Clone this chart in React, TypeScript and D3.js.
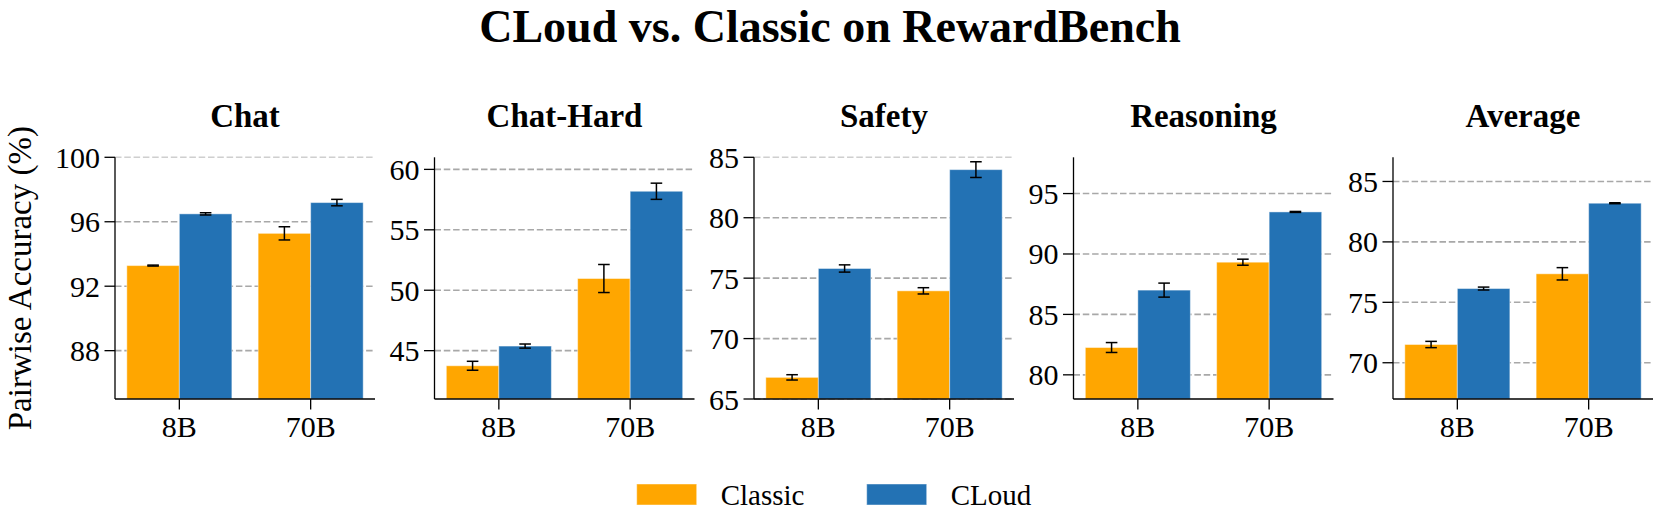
import React from "react";
import * as d3 from "d3";

const title = "CLoud vs. Classic on RewardBench";
const categories = ["Chat", "Chat-Hard", "Safety", "Reasoning", "Average"];
const models = ["8B", "70B"];
const seriesNames = ["Classic", "CLoud"];
const seriesColors = ["#FFA600", "#2372B4"];

const classicValues = [[93.28, 95.28], [43.75, 50.97], [66.79, 73.95], [82.26, 89.32], [71.51, 77.36]];
const cloudValues = [[96.49, 97.19], [45.38, 58.19], [75.8, 83.98], [87.01, 93.48], [76.14, 83.2]];
const classicErr = [[0.03, 0.41], [0.37, 1.16], [0.22, 0.26], [0.41, 0.25], [0.26, 0.51]];
const cloudErr = [[0.07, 0.2], [0.17, 0.67], [0.3, 0.65], [0.58, 0.04], [0.12, 0.04]];
const yDomains = [[85, 100], [41, 61], [65, 85], [78, 98], [67, 87]];
const yTicks = [[88, 92, 96, 100], [45, 50, 55, 60], [65, 70, 75, 80, 85], [80, 85, 90, 95], [70, 75, 80, 85]];
const yLabel = "Pairwise Accuracy (%)";

const W = 1660, H = 532;
const FONT = "'Liberation Serif', 'Times New Roman', serif";
const panelLeft0 = 115, panelStep = 319.5, panelW = 260;
const top = 157.3, bottom = 399;
const barW = 0.4;

export default function App() {
  const x = d3.scaleLinear().domain([-0.49, 1.49]).range([0, panelW]);
  const xIdx = d3.scaleOrdinal<string, number>().domain(models).range([0, 1]);
  const series = [
    { vals: classicValues, errs: classicErr, offset: -barW },
    { vals: cloudValues, errs: cloudErr, offset: 0 },
  ];
  return (
    <div style={{ position: "absolute", left: 0, top: 0 }}>
      <svg width={W} height={H} style={{ display: "block", background: "#fff" }}>
        <text x={W / 2} y={42} textAnchor="middle" fontFamily={FONT} fontWeight="bold" fontSize={46}>
          {title}
        </text>
        <text
          transform={`translate(31, ${(top + bottom) / 2}) rotate(-90)`}
          textAnchor="middle"
          fontFamily={FONT}
          fontSize={33}
        >
          {yLabel}
        </text>
        {categories.map((cat, ci) => {
          const left = panelLeft0 + ci * panelStep;
          const y = d3.scaleLinear().domain(yDomains[ci]).range([bottom, top]);
          const dmax = yDomains[ci][1];
          return (
            <g key={cat} transform={`translate(${left},0)`}>
              <text x={panelW / 2} y={126.7} textAnchor="middle" fontFamily={FONT} fontWeight="bold" fontSize={33}>
                {cat}
              </text>
              {yTicks[ci].map((t) => (
                <line
                  key={"g" + t}
                  x1={0}
                  x2={panelW}
                  y1={y(t)}
                  y2={y(t)}
                  stroke="#a8a8a8"
                  strokeWidth={1.6}
                  strokeDasharray="6.5,2.8"
                  opacity={t === dmax ? 0.55 : 1}
                />
              ))}
              {series.map((s, si) =>
                models.map((m, mi) => {
                  const xc = xIdx(m);
                  const v = s.vals[ci][mi];
                  const x0 = x(xc + s.offset);
                  const x1 = x(xc + s.offset + barW);
                  return (
                    <rect
                      key={`b${si}${mi}`}
                      x={x0}
                      y={y(v)}
                      width={x1 - x0}
                      height={bottom - y(v)}
                      fill={seriesColors[si]}
                      stroke="#ffffff"
                      strokeOpacity={0.45}
                      strokeWidth={1}
                    />
                  );
                })
              )}
              {series.map((s, si) =>
                models.map((m, mi) => {
                  const xc = xIdx(m);
                  const v = s.vals[ci][mi];
                  const e = s.errs[ci][mi];
                  const cx = x(xc + s.offset + barW / 2);
                  const cap = 5.8;
                  return (
                    <g key={`e${si}${mi}`} stroke="#000" strokeWidth={1.5}>
                      <line x1={cx} x2={cx} y1={y(v - e)} y2={y(v + e)} />
                      <line x1={cx - cap} x2={cx + cap} y1={y(v - e)} y2={y(v - e)} />
                      <line x1={cx - cap} x2={cx + cap} y1={y(v + e)} y2={y(v + e)} />
                    </g>
                  );
                })
              )}
              <line x1={0} x2={0} y1={top} y2={bottom} stroke="#000" strokeWidth={1.3} />
              <line x1={0} x2={panelW} y1={bottom} y2={bottom} stroke="#000" strokeWidth={1.3} />
              {yTicks[ci].map((t) => (
                <g key={"t" + t}>
                  <line x1={-10.5} x2={0} y1={y(t)} y2={y(t)} stroke="#000" strokeWidth={1.3} />
                  <text
                    x={-15}
                    y={y(t)}
                    dy="0.35em"
                    textAnchor="end"
                    fontFamily={FONT}
                    fontSize={30}
                  >
                    {t}
                  </text>
                </g>
              ))}
              {models.map((m) => (
                <g key={"x" + m}>
                  <line x1={x(xIdx(m))} x2={x(xIdx(m))} y1={bottom} y2={bottom + 10.5} stroke="#000" strokeWidth={1.3} />
                  <text x={x(xIdx(m))} y={437} textAnchor="middle" fontFamily={FONT} fontSize={30}>
                    {m}
                  </text>
                </g>
              ))}
            </g>
          );
        })}
        {seriesNames.map((n, i) => {
          const lx = 636.7 + i * 230;
          return (
            <g key={n}>
              <rect x={lx} y={484} width={60} height={21} fill={seriesColors[i]} stroke="#fff" strokeOpacity={0.45} />
              <text x={lx + 84} y={505} fontFamily={FONT} fontSize={29}>
                {n}
              </text>
            </g>
          );
        })}
      </svg>
    </div>
  );
}
